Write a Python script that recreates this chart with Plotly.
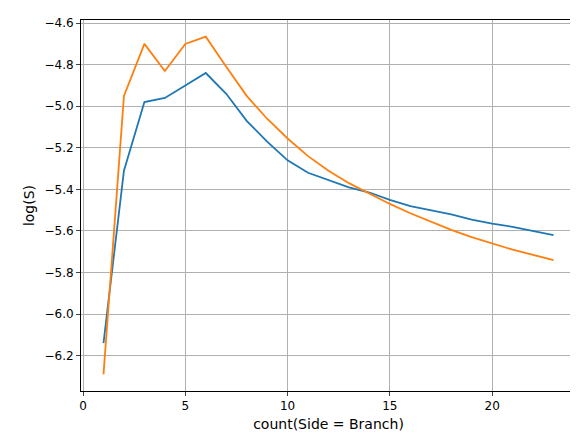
import plotly.graph_objects as go

x = list(range(1, 24))
blue = [-6.14, -5.31, -4.98, -4.96, -4.90, -4.84, -4.94, -5.07, -5.17, -5.26, -5.32, -5.355, -5.39,
        -5.415, -5.45, -5.48, -5.50, -5.52, -5.545, -5.565, -5.58, -5.60, -5.62]
orange = [-6.29, -4.95, -4.70, -4.83, -4.70, -4.665, -4.81, -4.95, -5.06, -5.155, -5.24, -5.31, -5.37,
          -5.42, -5.47, -5.515, -5.555, -5.595, -5.63, -5.66, -5.69, -5.715, -5.74]

fig = go.Figure()
fig.add_trace(go.Scatter(x=x, y=blue, mode="lines", line=dict(color="#1f77b4", width=1.8)))
fig.add_trace(go.Scatter(x=x, y=orange, mode="lines", line=dict(color="#ff7f0e", width=1.8)))

ax = dict(showline=True, linecolor="black", mirror=True, ticks="outside", ticklen=4,
          showgrid=True, gridcolor="#b0b0b0", gridwidth=0.8, zeroline=False, automargin=False,
          tickfont=dict(family="DejaVu Sans", size=12, color="black"))
fig.update_layout(
    width=578, height=436, showlegend=False,
    plot_bgcolor="white", paper_bgcolor="white",
    margin=dict(l=73, r=10, t=12, b=53),
    font=dict(family="DejaVu Sans", size=12, color="black"),
    xaxis=dict(ax, range=[-0.1, 24.1], tickvals=[0, 5, 10, 15, 20],
               title=dict(text="count(Side = Branch)", standoff=6)),
    yaxis=dict(ax, range=[-6.37, -4.585], dtick=0.2, tickformat=".1f",
               title=dict(text="log(S)", standoff=6)),
)
fig.write_html("out.html")
